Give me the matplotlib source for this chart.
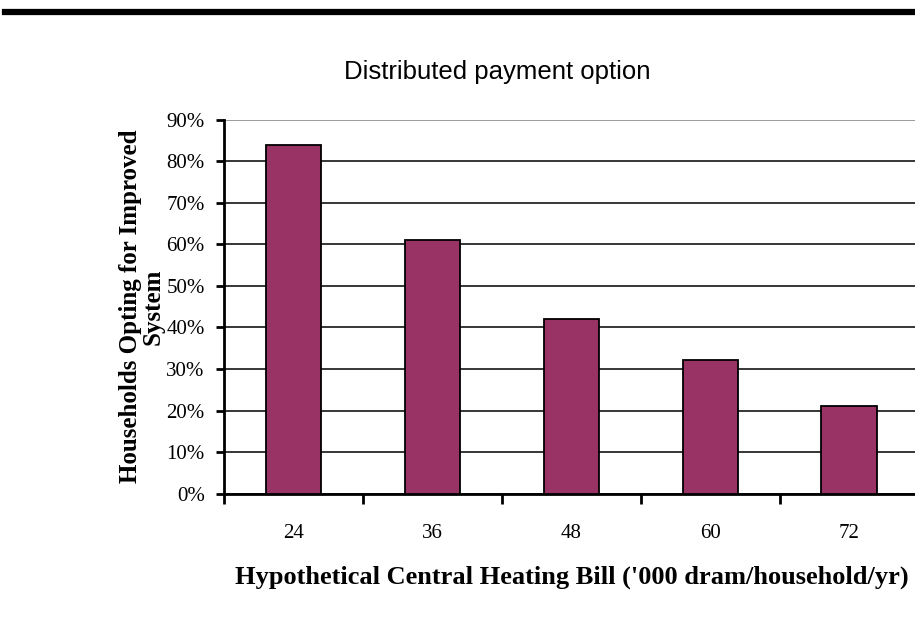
import numpy as np
import matplotlib.pyplot as plt
from matplotlib.ticker import PercentFormatter

# data
bills = ["24", "36", "48", "60", "72"]
share = [84.0, 61.0, 42.0, 32.2, 21.1]

bar_color = "#993366"
serif = "Liberation Serif"

fig = plt.figure(figsize=(9.15, 6.33), dpi=100)

# thick rule across the top
fig.add_artist(plt.Line2D([0.005, 1.0], [0.981, 0.981], color="black", lw=4.5))
fig.text(0.543, 0.887, "Distributed payment option", ha="center", va="center",
         fontsize=18.5, family="Liberation Sans")

ax = fig.add_axes([0.245, 0.22, 0.759, 0.591])
x = np.arange(len(bills))
ax.bar(x, share, width=0.4, color=bar_color, edgecolor="black", linewidth=1.3, zorder=3)

ax.set_xlim(-0.5, len(bills) - 0.5)
ax.set_ylim(0, 90)
ax.set_yticks(np.arange(0, 91, 10))
ax.yaxis.set_major_formatter(PercentFormatter(decimals=0))
ax.grid(axis="y", color="black", lw=1.1, zorder=0)
ax.get_ygridlines()[-1].set_color("#808080")

ax.set_xticks(x)
ax.set_xticklabels(bills)
ax.set_xticks(np.arange(-0.5, len(bills)), minor=True)
ax.tick_params(axis="x", which="major", length=0, pad=22)
ax.tick_params(axis="x", which="minor", length=7, width=2, direction="out")
ax.tick_params(axis="y", length=6, width=2, direction="out", pad=8)
for lab in ax.get_xticklabels() + ax.get_yticklabels():
    lab.set_family(serif)
    lab.set_fontsize(15)

for s in ["top", "right"]:
    ax.spines[s].set_visible(False)
ax.spines["left"].set_linewidth(2)
ax.spines["bottom"].set_linewidth(2)

ax.set_ylabel("Households Opting for Improved\nSystem", family=serif,
              fontweight="bold", fontsize=18, labelpad=1.5, linespacing=0.95)
ax.set_xlabel("Hypothetical Central Heating Bill ('000 dram/household/yr)",
              family=serif, fontweight="bold", fontsize=19, labelpad=16)

fig.savefig("out.png", dpi=100)
